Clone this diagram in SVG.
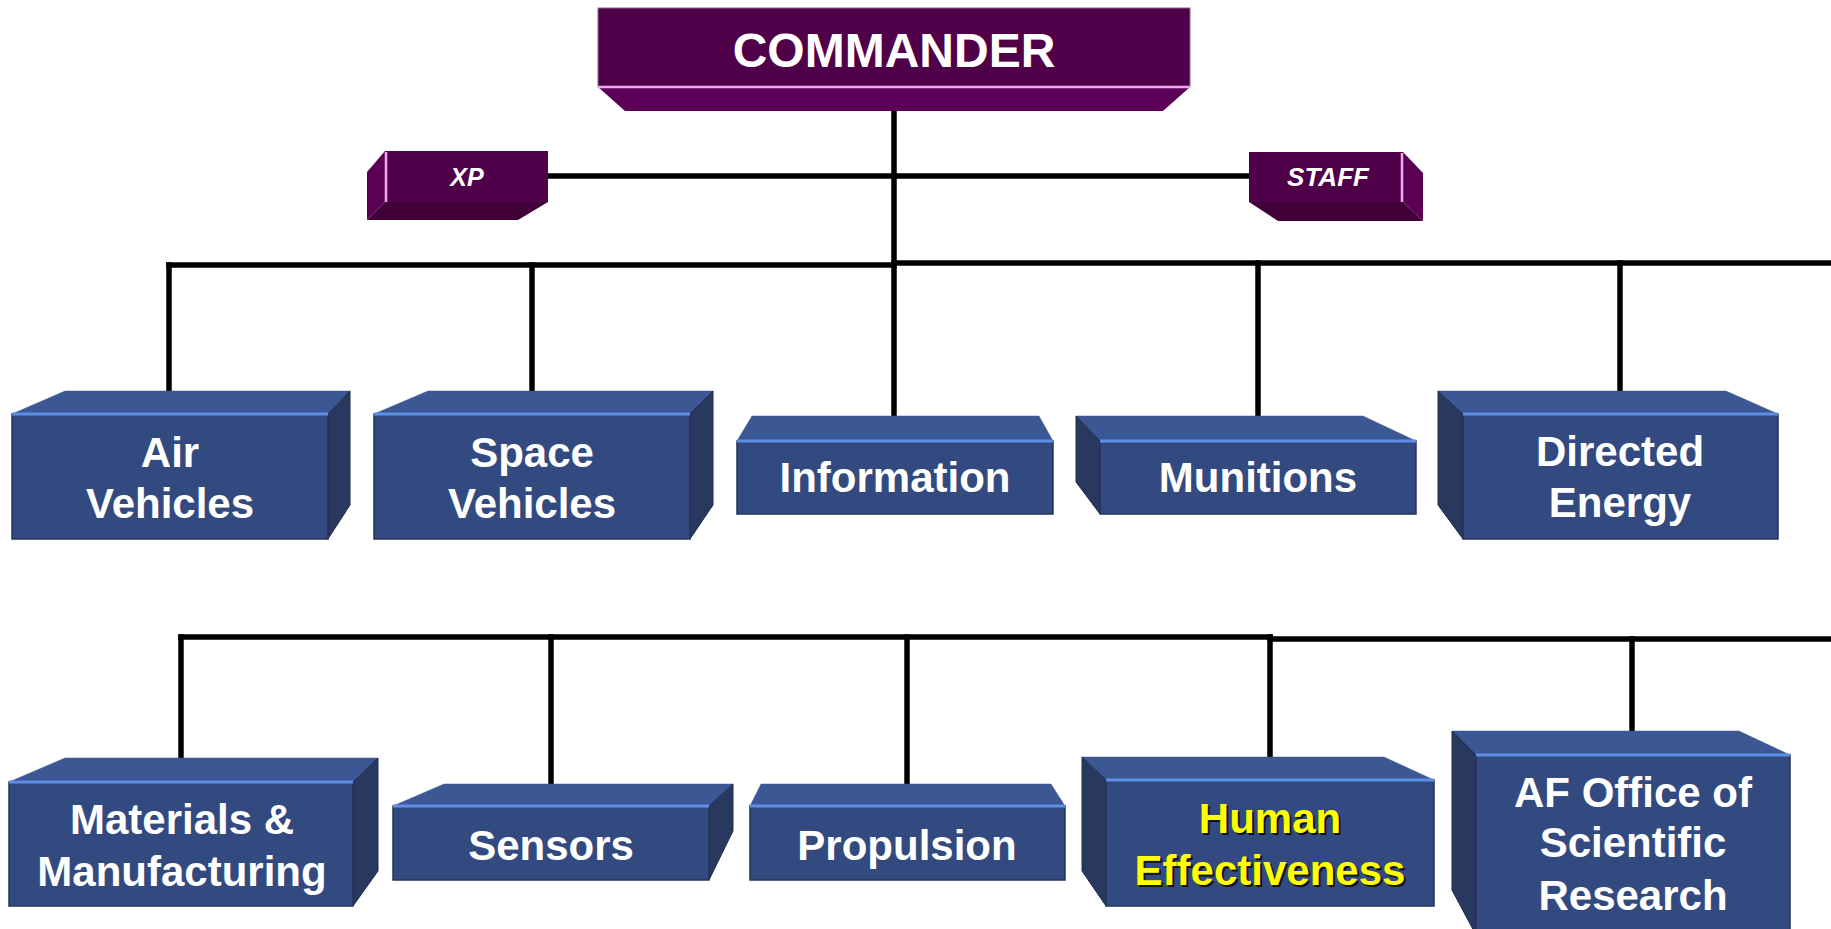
<svg xmlns="http://www.w3.org/2000/svg" width="1831" height="929" viewBox="0 0 1831 929">
  <style>
    .front { fill: #334a80; stroke: #243459; stroke-width: 1.5; }
    .top { fill: #3b5794; stroke: #3b5794; stroke-width: 0.5; }
    .side { fill: #28385f; stroke: #1f2c4c; stroke-width: 1; }
    .hl { stroke: #5e8fe6; stroke-width: 3; }
    .pfront { fill: #4f0049; }
    .pbevel { fill: #5c0057; }
    .pdark { fill: #420039; }
    .pside { fill: #5b0055; }
    .pink { stroke: #f0a8f0; stroke-width: 2.5; }
    .lbl { font-family: "Liberation Sans", Arial, sans-serif; font-weight: bold; fill: #ffffff; text-anchor: middle; font-size: 42px; }
    .yel { fill: #ffff00; }
    .shadow { fill: #111111; }
    .plbl { font-family: "Liberation Sans", Arial, sans-serif; font-weight: bold; font-style: italic; fill: #ffffff; text-anchor: middle; }
    .wire { stroke: #000000; stroke-width: 5.5; fill: none; stroke-linecap: square; }
  </style>

  <!-- connectors -->
  <g id="connectors">
    <line class="wire" x1="894" y1="88" x2="894" y2="440"/>
    <line class="wire" x1="550" y1="176" x2="1247" y2="176"/>
    <line class="wire" x1="169" y1="265" x2="894" y2="265"/>
    <line class="wire" x1="894" y1="263" x2="1835" y2="263"/>
    <line class="wire" x1="169" y1="265" x2="169" y2="413"/>
    <line class="wire" x1="532" y1="265" x2="532" y2="413"/>
    <line class="wire" x1="1258" y1="263" x2="1258" y2="440"/>
    <line class="wire" x1="1620" y1="263" x2="1620" y2="413"/>
    <line class="wire" x1="181" y1="637" x2="1270" y2="637"/>
    <line class="wire" x1="1270" y1="639" x2="1835" y2="639"/>
    <line class="wire" x1="181" y1="637" x2="181" y2="781"/>
    <line class="wire" x1="551" y1="637" x2="551" y2="805"/>
    <line class="wire" x1="907" y1="637" x2="907" y2="805"/>
    <line class="wire" x1="1270" y1="637" x2="1270" y2="779"/>
    <line class="wire" x1="1632" y1="639" x2="1632" y2="754"/>
  </g>

  <!-- commander -->
  <g id="commander">
    <rect class="pfront" x="598" y="8" width="592" height="79" stroke="#8a6a88" stroke-width="1"/>
    <polygon class="pbevel" points="598,87 1190,87 1163,111 625,111"/>
    <line class="pink" x1="598" y1="87" x2="1190" y2="87"/>
    <text class="lbl" x="894" y="67" style="font-size:48px">COMMANDER</text>
  </g>

  <!-- XP -->
  <g id="xp">
    <polygon class="pside" points="385,151 385,202 367,220 367,172"/>
    <polygon class="pdark" points="385,202 548,202 518,220 367,220"/>
    <rect class="pfront" x="385" y="151" width="163" height="51"/>
    <line class="pink" x1="386" y1="152" x2="386" y2="202"/>
    <text class="plbl" x="467" y="186" style="font-size:25px">XP</text>
  </g>

  <!-- STAFF -->
  <g id="staff">
    <polygon class="pside" points="1403,152 1423,173 1423,221 1403,202"/>
    <polygon class="pdark" points="1249,202 1403,202 1423,221 1278,221"/>
    <rect class="pfront" x="1249" y="152" width="154" height="50"/>
    <line class="pink" x1="1402" y1="153" x2="1402" y2="202"/>
    <text class="plbl" x="1328" y="186" style="font-size:26px">STAFF</text>
  </g>

  <!-- row 1 -->
  <g id="air-vehicles">
    <polygon class="top" points="12,414 65,391 350,391 328,414"/>
    <polygon class="side" points="328,414 350,391 350,505 328,539"/>
    <rect class="front" x="12" y="414" width="316" height="125"/>
    <line class="hl" x1="12" y1="414" x2="328" y2="414"/>
    <text class="lbl" x="170" y="467">Air</text>
    <text class="lbl" x="170" y="518">Vehicles</text>
  </g>

  <g id="space-vehicles">
    <polygon class="top" points="374,414 428,391 713,391 690,414"/>
    <polygon class="side" points="690,414 713,391 713,505 690,539"/>
    <rect class="front" x="374" y="414" width="316" height="125"/>
    <line class="hl" x1="374" y1="414" x2="690" y2="414"/>
    <text class="lbl" x="532" y="467">Space</text>
    <text class="lbl" x="532" y="518">Vehicles</text>
  </g>

  <g id="information">
    <polygon class="top" points="737,441 752,416 1039,416 1053,441"/>
    <rect class="front" x="737" y="441" width="316" height="73"/>
    <line class="hl" x1="737" y1="441" x2="1053" y2="441"/>
    <text class="lbl" x="895" y="492" style="font-size:42px">Information</text>
  </g>

  <g id="munitions">
    <polygon class="top" points="1100,441 1076,416 1363,416 1416,441"/>
    <polygon class="side" points="1076,416 1100,441 1100,514 1076,482"/>
    <rect class="front" x="1100" y="441" width="316" height="73"/>
    <line class="hl" x1="1100" y1="441" x2="1416" y2="441"/>
    <text class="lbl" x="1258" y="492">Munitions</text>
  </g>

  <g id="directed-energy">
    <polygon class="top" points="1463,414 1438,391 1726,391 1778,414"/>
    <polygon class="side" points="1438,391 1463,414 1463,539 1438,505"/>
    <rect class="front" x="1463" y="414" width="315" height="125"/>
    <line class="hl" x1="1463" y1="414" x2="1778" y2="414"/>
    <text class="lbl" x="1620" y="466">Directed</text>
    <text class="lbl" x="1620" y="517">Energy</text>
  </g>

  <!-- row 2 -->
  <g id="materials-manufacturing">
    <polygon class="top" points="9,782 65,758 378,758 353,782"/>
    <polygon class="side" points="353,782 378,758 378,871 353,906"/>
    <rect class="front" x="9" y="782" width="344" height="124"/>
    <line class="hl" x1="9" y1="782" x2="353" y2="782"/>
    <text class="lbl" x="182" y="834">Materials &amp;</text>
    <text class="lbl" x="182" y="886">Manufacturing</text>
  </g>

  <g id="sensors">
    <polygon class="top" points="393,806 444,784 733,784 709,806"/>
    <polygon class="side" points="709,806 733,784 733,831 709,880"/>
    <rect class="front" x="393" y="806" width="316" height="74"/>
    <line class="hl" x1="393" y1="806" x2="709" y2="806"/>
    <text class="lbl" x="551" y="860">Sensors</text>
  </g>

  <g id="propulsion">
    <polygon class="top" points="750,806 761,784 1051,784 1065,806"/>
    <rect class="front" x="750" y="806" width="315" height="74"/>
    <line class="hl" x1="750" y1="806" x2="1065" y2="806"/>
    <text class="lbl" x="907" y="860">Propulsion</text>
  </g>

  <g id="human-effectiveness">
    <polygon class="top" points="1106,780 1082,757 1384,757 1434,780"/>
    <polygon class="side" points="1082,757 1106,780 1106,906 1082,871"/>
    <rect class="front" x="1106" y="780" width="328" height="126"/>
    <line class="hl" x1="1106" y1="780" x2="1434" y2="780"/>
    <text class="lbl shadow" x="1272" y="835">Human</text>
    <text class="lbl shadow" x="1272" y="887">Effectiveness</text>
    <text class="lbl yel" x="1270" y="833">Human</text>
    <text class="lbl yel" x="1270" y="885">Effectiveness</text>
  </g>

  <g id="af-office-of-scientific-research">
    <polygon class="top" points="1476,755 1452,731 1739,731 1790,755"/>
    <polygon class="side" points="1452,731 1476,755 1476,935 1452,890"/>
    <rect class="front" x="1476" y="755" width="314" height="185"/>
    <line class="hl" x1="1476" y1="755" x2="1790" y2="755"/>
    <text class="lbl" x="1633" y="807">AF Office of</text>
    <text class="lbl" x="1633" y="857">Scientific</text>
    <text class="lbl" x="1633" y="910">Research</text>
  </g>
</svg>
